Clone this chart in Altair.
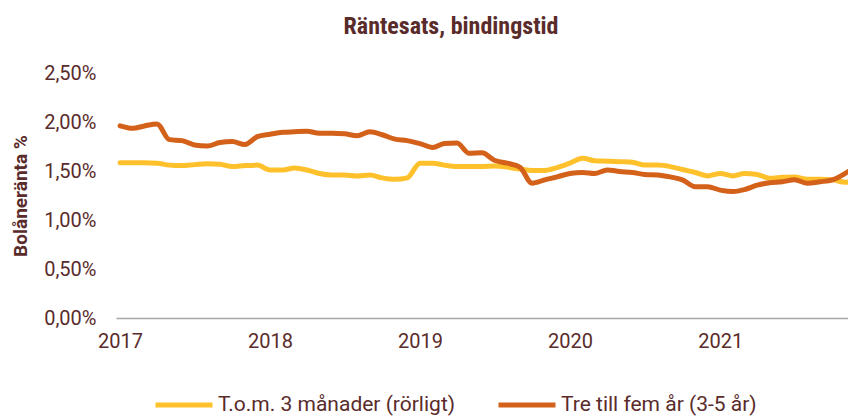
import altair as alt
import pandas as pd

# Monthly values, Jan 2017 .. Dec 2021 (percent)
rorligt = [1.585, 1.585, 1.585, 1.58, 1.56, 1.555, 1.565, 1.575, 1.57, 1.545,
           1.555, 1.56, 1.51, 1.51, 1.53, 1.51, 1.475, 1.46, 1.46, 1.45,
           1.46, 1.43, 1.415, 1.43, 1.58, 1.58, 1.56, 1.545, 1.545, 1.545,
           1.55, 1.54, 1.52, 1.505, 1.505, 1.535, 1.58, 1.63, 1.605, 1.60,
           1.595, 1.59, 1.56, 1.56, 1.545, 1.515, 1.485, 1.45, 1.475, 1.45,
           1.475, 1.465, 1.425, 1.435, 1.44, 1.415, 1.415, 1.41, 1.385, 1.385]
tre_fem = [1.96, 1.935, 1.96, 1.98, 1.82, 1.81, 1.765, 1.755, 1.79, 1.80,
           1.77, 1.85, 1.875, 1.895, 1.90, 1.905, 1.885, 1.885, 1.88, 1.86,
           1.90, 1.87, 1.825, 1.81, 1.78, 1.74, 1.78, 1.785, 1.68, 1.685,
           1.61, 1.58, 1.54, 1.375, 1.41, 1.44, 1.475, 1.485, 1.475, 1.51,
           1.495, 1.485, 1.465, 1.46, 1.44, 1.41, 1.34, 1.34, 1.305, 1.29,
           1.31, 1.355, 1.38, 1.39, 1.41, 1.375, 1.39, 1.41, 1.475, 1.56]
series_names = ["T.o.m. 3 månader (rörligt)", "Tre till fem år (3-5 år)"]
colors = ["#FFC12B", "#D4611A"]
years = [2017, 2018, 2019, 2020, 2021]
y_ticks = [0, 0.5, 1.0, 1.5, 2.0, 2.5]

dates = pd.date_range("2017-01-01", periods=len(rorligt), freq="MS")
df = pd.concat([
    pd.DataFrame({"datum": dates, "ranta": rorligt, "serie": series_names[0]}),
    pd.DataFrame({"datum": dates, "ranta": tre_fem, "serie": series_names[1]}),
])
df["datum"] = df["datum"].dt.strftime("%Y-%m-%d")

TXT = "#5A2B2B"
TFONT = "Roboto Condensed, Roboto"
FONT = "Roboto"

chart = alt.Chart(df).mark_line(
    strokeWidth=5, strokeCap="round", strokeJoin="round", interpolate="monotone", clip=True
).encode(
    x=alt.X("datum:T",
            scale=alt.Scale(domain=[alt.DateTime(year=2016, month=12, date=22),
                                    alt.DateTime(year=2021, month=11, date=8)]),
            axis=alt.Axis(values=[alt.DateTime(year=y, month=1, date=1) for y in years],
                          format="%Y", title=None, grid=False, ticks=False,
                          domainColor="#A6A6A6", domainWidth=1.5,
                          labelPadding=13, labelFontSize=20, labelColor=TXT,
                          labelFont=FONT, labelAlign="center", labelFlush=False)),
    y=alt.Y("ranta:Q",
            scale=alt.Scale(domain=[0, 2.5], nice=False),
            axis=alt.Axis(values=y_ticks, grid=False, ticks=False, domain=False,
                          labelExpr="replace(format(datum.value, '.2f'), '.', ',') + '%'",
                          labelPadding=20, labelFontSize=20, labelColor=TXT, labelFont=FONT,
                          title="Bolåneränta %", titleFont=FONT, titleFontSize=19,
                          titleFontWeight="bold", titleColor=TXT, titleX=-96,
                          titleBaseline="middle", titleAngle=-90)),
    color=alt.Color("serie:N",
                    scale=alt.Scale(domain=series_names, range=colors),
                    legend=alt.Legend(title=None, orient="none", direction="horizontal",
                                      legendX=37, legendY=301,
                                      symbolType="stroke", symbolSize=3249,
                                      symbolStrokeWidth=5, labelFontSize=21,
                                      labelFont=FONT, labelColor=TXT, labelLimit=400,
                                      labelOffset=3, columnPadding=32)),
).properties(
    width=732, height=245,
    title=alt.TitleParams("Räntesats, bindingstid", font=TFONT, fontSize=24,
                          fontWeight="bold", color=TXT, anchor="middle", dx=-31, offset=24),
    autosize=alt.AutoSizeParams(type="none"),
    padding={"left": 108, "top": 65, "right": 0, "bottom": 99},
).configure_view(stroke=None)

chart.save("out.html", embed_options={"renderer": "svg", "actions": False})
